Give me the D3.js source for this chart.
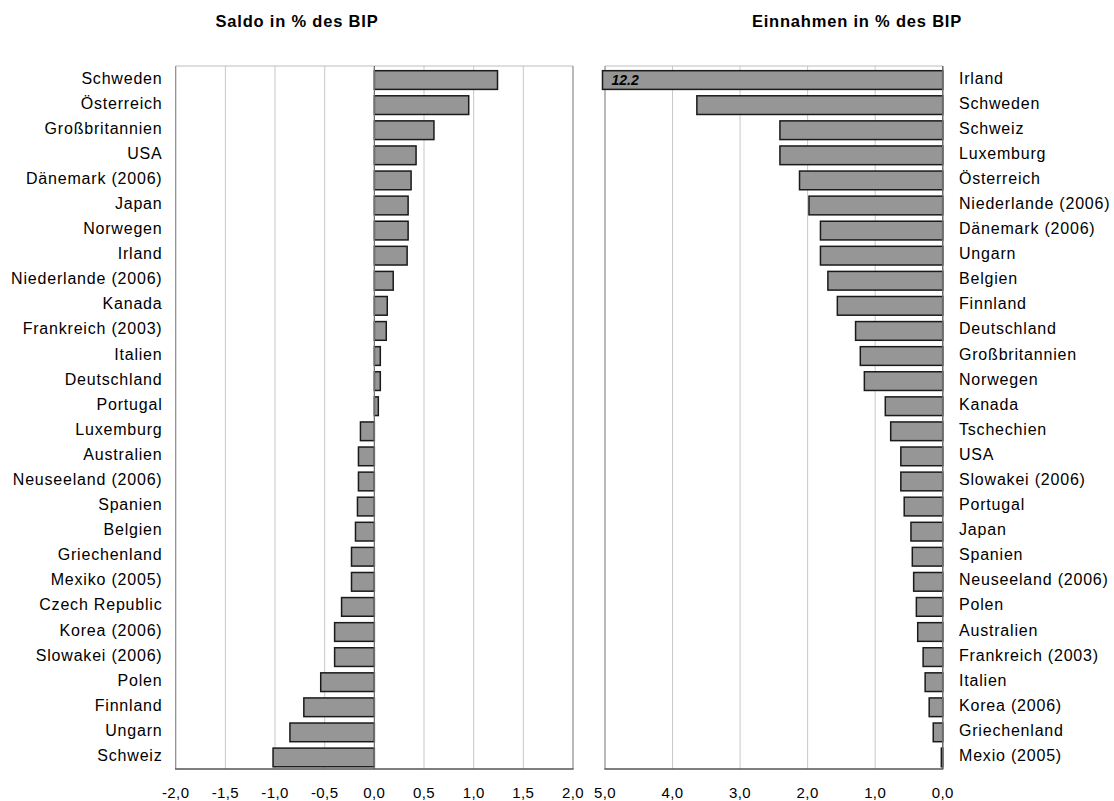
<!DOCTYPE html>
<html>
<head>
<meta charset="utf-8">
<script src="https://cdn.jsdelivr.net/npm/d3@7"></script>
<style>
  html, body { margin: 0; padding: 0; background: #fff; }
  svg { display: block; }
  text { font-family: "Liberation Sans", Arial, sans-serif; fill: #000; }
</style>
</head>
<body>
<svg id="chart" width="1114" height="801"></svg>
<script>
const leftTitle = "Saldo in % des BIP";
const rightTitle = "Einnahmen in % des BIP";

const leftCategories = ["Schweden","Österreich","Großbritannien","USA","Dänemark (2006)","Japan","Norwegen","Irland","Niederlande (2006)","Kanada","Frankreich (2003)","Italien","Deutschland","Portugal","Luxemburg","Australien","Neuseeland (2006)","Spanien","Belgien","Griechenland","Mexiko (2005)","Czech Republic","Korea (2006)","Slowakei (2006)","Polen","Finnland","Ungarn","Schweiz"];
const leftValues = [1.24,0.95,0.60,0.42,0.37,0.34,0.34,0.33,0.19,0.13,0.12,0.06,0.06,0.04,-0.14,-0.16,-0.16,-0.17,-0.19,-0.23,-0.23,-0.33,-0.40,-0.40,-0.54,-0.71,-0.85,-1.02];
const leftTicks = [-2.0,-1.5,-1.0,-0.5,0.0,0.5,1.0,1.5,2.0];

const rightCategories = ["Irland","Schweden","Schweiz","Luxemburg","Österreich","Niederlande (2006)","Dänemark (2006)","Ungarn","Belgien","Finnland","Deutschland","Großbritannien","Norwegen","Kanada","Tschechien","USA","Slowakei (2006)","Portugal","Japan","Spanien","Neuseeland (2006)","Polen","Australien","Frankreich (2003)","Italien","Korea (2006)","Griechenland","Mexio (2005)"];
const rightValues = [12.2,3.64,2.41,2.41,2.12,1.98,1.81,1.81,1.70,1.56,1.29,1.22,1.16,0.85,0.77,0.62,0.62,0.57,0.47,0.45,0.43,0.39,0.37,0.29,0.26,0.20,0.14,0.02];
const rightTicks = [5.0,4.0,3.0,2.0,1.0,0.0];

const svg = d3.select("#chart");
const fmt = v => d3.format(".1f")(v).replace(".", ",").replace("−", "-");

const barFill = "#969696", barStroke = "#1a1a1a", gridColor = "#c8c8c8";
const plotTop = 66, plotBottom = 769;

function drawPanel(opts) {
  const { categories, values, ticks, domain, x0, x1, labelSide, title, titleX } = opts;
  const x = d3.scaleLinear().domain(domain).range([x0, x1]);
  const y = d3.scaleBand().domain(categories).range([plotTop + 1.5, plotBottom + 1]).paddingInner(0.255).paddingOuter(0.1275);
  const g = svg.append("g");

  // gridlines
  g.selectAll("line.grid").data(ticks.filter(t => t !== 0 && t !== domain[0] && t !== domain[1]))
    .join("line")
    .attr("x1", d => x(d)).attr("x2", d => x(d))
    .attr("y1", plotTop).attr("y2", plotBottom)
    .attr("stroke", gridColor).attr("stroke-width", 1);

  // frame
  g.append("line").attr("x1", x0).attr("x2", x1).attr("y1", plotTop).attr("y2", plotTop)
    .attr("stroke", "#bdbdbd").attr("stroke-width", 1);
  g.append("line").attr("x1", Math.min(x0, x1)).attr("x2", Math.min(x0, x1)).attr("y1", plotTop).attr("y2", plotBottom)
    .attr("stroke", "#8a8a8a").attr("stroke-width", 1.2);
  g.append("line").attr("x1", Math.max(x0, x1)).attr("x2", Math.max(x0, x1)).attr("y1", plotTop).attr("y2", plotBottom)
    .attr("stroke", opts.rightFrame || "#8a8a8a").attr("stroke-width", 1.2);

  // bars
  const clampMax = Math.max(domain[0], domain[1]);
  g.selectAll("rect.bar").data(values.map((v, i) => ({ v, c: categories[i] })))
    .join("rect")
    .attr("x", d => {
      const vv = Math.min(d.v, clampMax);
      const a = Math.min(x(0), x(vv));
      return d.v > clampMax ? a - 2.5 : a;
    })
    .attr("width", d => {
      const vv = Math.min(d.v, clampMax);
      return Math.abs(x(vv) - x(0)) + (d.v > clampMax ? 2.5 : 0);
    })
    .attr("y", d => y(d.c))
    .attr("height", y.bandwidth())
    .attr("fill", barFill).attr("stroke", barStroke).attr("stroke-width", 1.5);

  // zero axis line
  g.append("line").attr("x1", x(0)).attr("x2", x(0)).attr("y1", plotTop).attr("y2", plotBottom)
    .attr("stroke", "#707070").attr("stroke-width", 1.3);

  // bottom axis line
  g.append("line").attr("x1", x0 - 0.6).attr("x2", x1 + 0.6).attr("y1", plotBottom).attr("y2", plotBottom)
    .attr("stroke", "#555").attr("stroke-width", 1.6);

  // tick labels
  g.selectAll("text.tick").data(ticks).join("text")
    .attr("x", d => x(d)).attr("y", 797.5)
    .attr("text-anchor", "middle")
    .style("font-size", "15px").style("letter-spacing", "0.4px")
    .text(d => fmt(d));

  // category labels
  g.selectAll("text.cat").data(categories).join("text")
    .attr("x", labelSide === "left" ? 162.5 : 959)
    .attr("y", d => y(d) + y.bandwidth() / 2 + 3.5)
    .attr("text-anchor", labelSide === "left" ? "end" : "start")
    .style("font-size", "16px").style("letter-spacing", "0.8px")
    .text(d => d);

  // title
  svg.append("text").attr("x", titleX).attr("y", 27)
    .attr("text-anchor", "middle")
    .style("font-size", "16.5px").style("font-weight", "bold").style("letter-spacing", "0.8px")
    .text(title);

  return { x, y };
}

drawPanel({ categories: leftCategories, values: leftValues, ticks: leftTicks,
  domain: [-2, 2], x0: 175.7, x1: 573, labelSide: "left", title: leftTitle, titleX: 297 });

const r = drawPanel({ categories: rightCategories, values: rightValues, ticks: rightTicks,
  domain: [5, 0], x0: 605, x1: 942.7, labelSide: "right", title: rightTitle, titleX: 857, rightFrame: "#555" });

// value label for the clipped bar
svg.append("text")
  .attr("x", 611.5)
  .attr("y", r.y(rightCategories[0]) + r.y.bandwidth() / 2 + 5)
  .style("font-size", "14px").style("font-weight", "bold").style("font-style", "italic")
  .text(rightValues[0].toFixed(1));
</script>
</body>
</html>
